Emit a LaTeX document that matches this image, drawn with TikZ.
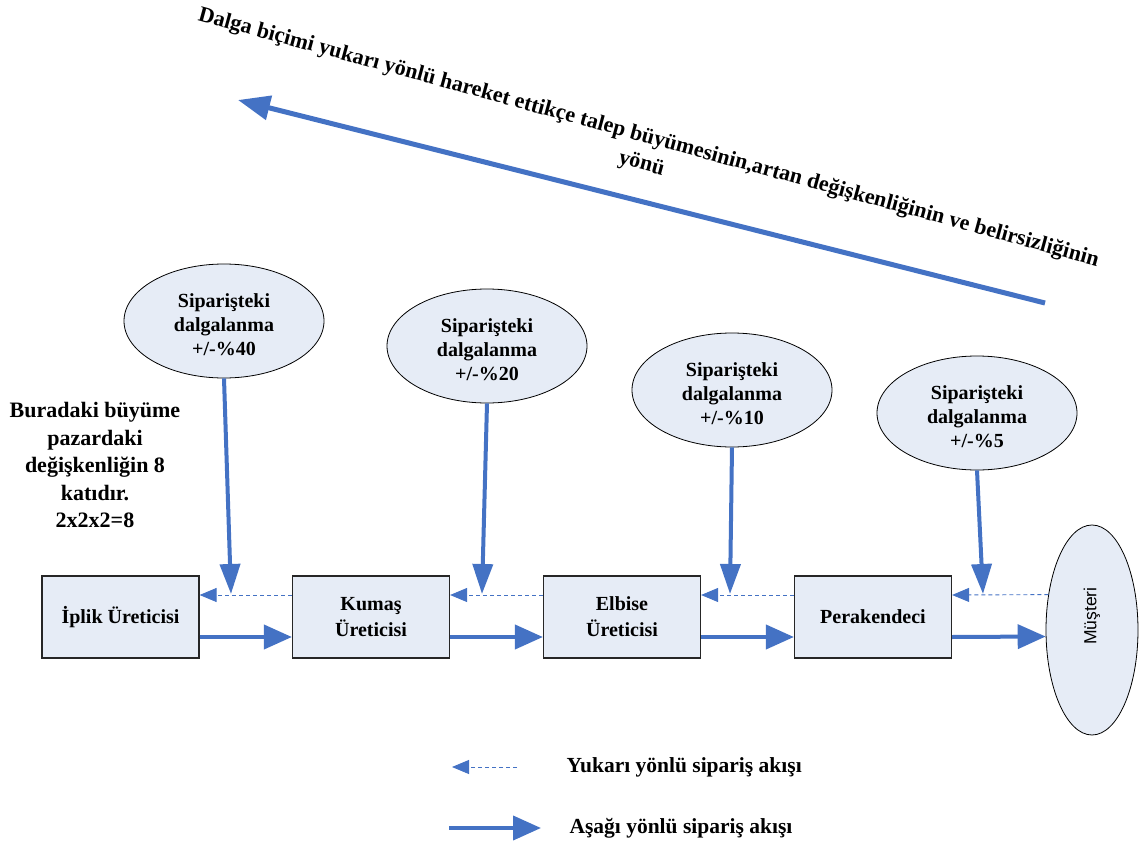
\documentclass[tikz,border=0pt]{standalone}
\usepackage{fontspec}
\setmainfont{Liberation Serif}
\newfontfamily\arialfont{Liberation Sans}
\usetikzlibrary{arrows.meta,shapes.geometric}
\definecolor{flowblue}{HTML}{4472C4}
\definecolor{boxfill}{HTML}{E6ECF6}
\tikzset{
  stagebox/.style={draw=black!85, line width=1.2pt, fill=boxfill, minimum width=157pt,
    minimum height=82pt, align=center, font=\fontsize{20}{26}\selectfont\bfseries, inner sep=2pt},
  swing/.style={ellipse, draw=black, line width=0.8pt, fill=boxfill, minimum width=200pt,
    minimum height=114pt, align=center, font=\fontsize{20}{24}\selectfont\bfseries, inner sep=0pt},
  swingtext/.style={align=center, font=\fontsize{20}{24}\selectfont\bfseries, inner sep=0pt},
  downflow/.style={draw=flowblue, line width=4pt, -{Triangle[length=28pt,width=24pt]}},
  upflow/.style={draw=flowblue, line width=0.9pt, dash pattern=on 4pt off 3pt,
    -{Triangle[length=17pt,width=14pt]}},
  feed/.style={draw=flowblue, line width=4pt, -{Triangle[length=30pt,width=20pt]}},
  legendtext/.style={font=\fontsize{21.5}{24}\selectfont\bfseries, anchor=west}
}
\begin{document}
\begin{tikzpicture}[x=1pt,y=-1pt]
\useasboundingbox (0,0) rectangle (1141,843);

% supply chain stages
\node[stagebox] (ip) at (120.5,617) {İplik Üreticisi};
\node[stagebox] (ku) at (371,617) {Kumaş\\Üreticisi};
\node[stagebox] (el) at (622,617) {Elbise\\Üreticisi};
\node[stagebox] (pe) at (873,617) {Perakendeci};
\node[ellipse, draw=black, line width=0.8pt, fill=boxfill, minimum width=92pt, minimum height=210pt,
  inner sep=0pt] (mu) at (1092,630) {};
\node[rotate=90, font=\arialfont\fontsize{17.5}{20}\selectfont] (mulabel) at ([yshift=14pt]mu.center) {Müşteri};

% order fluctuation at each stage
\node[swing] (e1) at (224,321) {};
\node[swing] (e2) at (487,346) {};
\node[swing] (e3) at (732,390) {};
\node[swing] (e4) at (977,413) {};
\node[swingtext] (s1) at ([yshift=-4pt]e1.center) {Siparişteki\\dalgalanma\\+/-\%40};
\node[swingtext] (s2) at ([yshift=-4pt]e2.center) {Siparişteki\\dalgalanma\\+/-\%20};
\node[swingtext] (s3) at ([yshift=-4pt]e3.center) {Siparişteki\\dalgalanma\\+/-\%10};
\node[swingtext] (s4) at ([yshift=-4pt]e4.center) {Siparişteki\\dalgalanma\\+/-\%5};

\coordinate (t1) at (231,594);
\coordinate (t2) at (482,594);
\coordinate (t3) at (730,594);
\coordinate (t4) at (983,594);
\draw[feed] (e1.south) -- (t1);
\draw[feed] (e2.south) -- (t2);
\draw[feed] (e3.south) -- (t3);
\draw[feed] (e4.south) -- (t4);

% upstream orders (dashed) and downstream flow (solid)
\draw[upflow] ([yshift=22pt]ku.west) -- ([yshift=22pt]ip.east);
\draw[upflow] ([yshift=22pt]el.west) -- ([yshift=22pt]ku.east);
\draw[upflow] ([yshift=22pt]pe.west) -- ([yshift=22pt]el.east);
\draw[upflow] (mu.141) -- ([yshift=22pt]pe.east);
\draw[downflow] ([yshift=-20pt]ip.east) -- ([yshift=-20pt]ku.west);
\draw[downflow] ([yshift=-20pt]ku.east) -- ([yshift=-20pt]el.west);
\draw[downflow] ([yshift=-20pt]el.east) -- ([yshift=-20pt]pe.west);
\draw[downflow] ([yshift=-20pt]pe.east) -- (mu.188);

% note on the left
\node[align=center, font=\fontsize{22}{27.5}\selectfont\bfseries] (note) at (95,465)
  {Buradaki büyüme\\pazardaki\\değişkenliğin 8\\katıdır.\\2x2x2=8};

% bullwhip direction
\coordinate (bwstart) at (1045,303);
\coordinate (bwend) at (238,100);
\draw[draw=flowblue, line width=5pt, -{Triangle[length=32pt,width=24pt]}] (bwstart) -- (bwend);
\node[rotate=-15.3, align=center, font=\fontsize{22}{27}\selectfont\bfseries] (bwtext) at (645,151)
  {Dalga biçimi yukarı yönlü hareket ettikçe talep büyümesinin,artan değişkenliğinin ve belirsizliğinin\\yönü};

% legend
\coordinate (l1a) at (517,767);
\coordinate (l1b) at (452,767);
\coordinate (l2a) at (449,828);
\coordinate (l2b) at (541,828);
\draw[upflow] (l1a) -- (l1b);
\draw[downflow] (l2a) -- (l2b);
\node[legendtext] (lt1) at (563,767) {Yukarı yönlü sipariş akışı};
\node[legendtext] (lt2) at (566,828) {Aşağı yönlü sipariş akışı};
\end{tikzpicture}
\end{document}
